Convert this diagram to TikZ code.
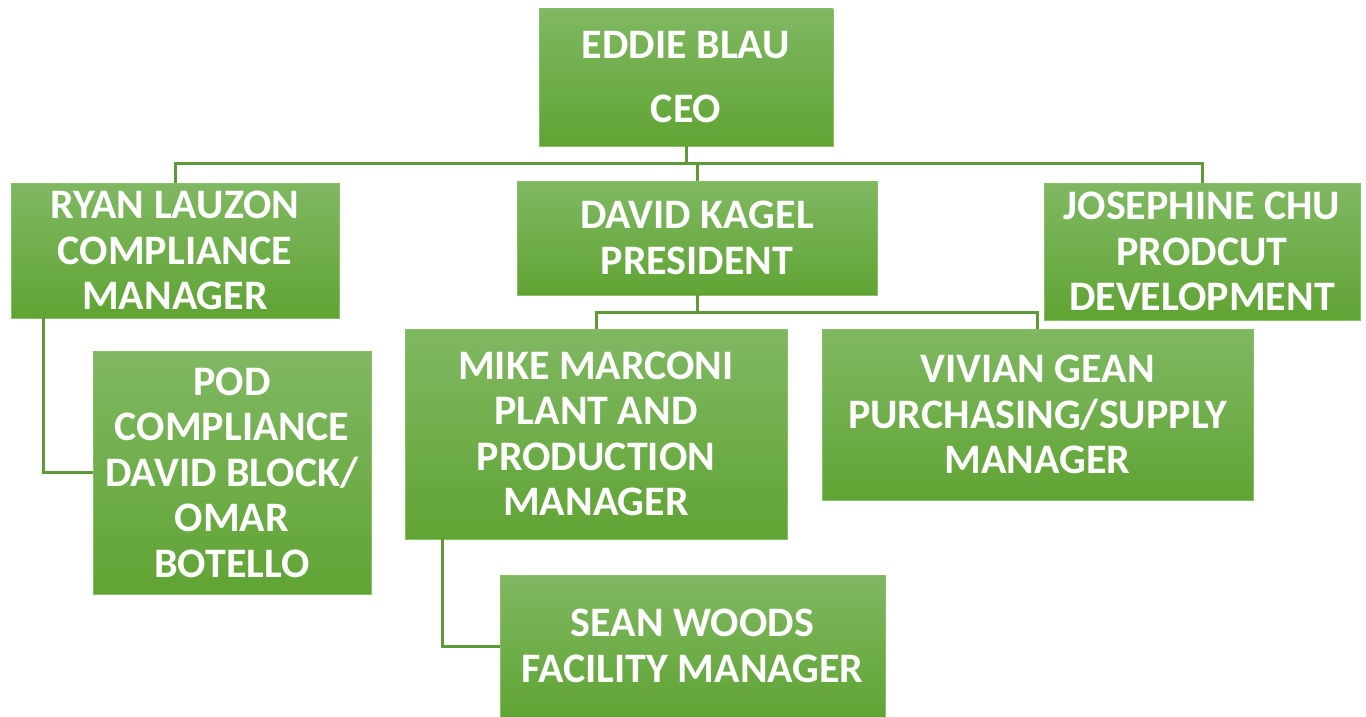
\documentclass[tikz,border=0pt]{standalone}
\usepackage{fontspec}
\setmainfont{Carlito}
\definecolor{boxtop}{HTML}{80B862}
\definecolor{boxbot}{HTML}{60A434}
\definecolor{boxedge}{HTML}{86BF66}
\definecolor{linkgreen}{HTML}{5E9A3A}
\tikzset{
  staff/.style={rectangle, draw=boxedge, line width=0.8pt, top color=boxtop, bottom color=boxbot,
    text=white, font=\fontsize{42}{45.5}\selectfont\bfseries, align=center, inner sep=0pt},
  link/.style={draw=linkgreen, line width=3pt}
}
\begin{document}
\begin{tikzpicture}[x=1pt, y=-1pt]
  \useasboundingbox (0,0) rectangle (1366,717);
  \node[staff, minimum width=294pt, minimum height=137pt] (ceo) at (686,77.5)
    {EDDIE BLAU\\[18.5pt]CEO};
  \node[staff, minimum width=328pt, minimum height=135pt] (ryan) at (175,250.5)
    {RYAN LAUZON\\COMPLIANCE\\MANAGER};
  \node[staff, minimum width=360pt, minimum height=114pt] (kagel) at (697,238)
    {DAVID KAGEL\\PRESIDENT};
  \node[staff, minimum width=316pt, minimum height=137pt] (chu) at (1202,251.5)
    {JOSEPHINE CHU\\PRODCUT\\DEVELOPMENT};
  \node[staff, minimum width=278pt, minimum height=243pt] (pod) at (232,472.5)
    {POD\\COMPLIANCE\\DAVID BLOCK/\\OMAR\\BOTELLO};
  \node[staff, minimum width=382pt, minimum height=210pt] (marconi) at (596,434)
    {MIKE MARCONI\\PLANT AND\\PRODUCTION\\MANAGER};
  \node[staff, minimum width=431pt, minimum height=171pt] (gean) at (1037.5,414.5)
    {VIVIAN GEAN\\PURCHASING/SUPPLY\\MANAGER};
  \node[staff, minimum width=385pt, minimum height=142pt] (woods) at (692.5,646)
    {SEAN WOODS\\FACILITY MANAGER};

  \draw[link] (ceo.south) -- ++(0,17) -| (ryan.north);
  \draw[link] (ceo.south) -- ++(0,17) -| (kagel.north);
  \draw[link] (ceo.south) -- ++(0,17) -| (chu.north);
  \draw[link] ([xshift=33pt]ryan.south west) |- (pod.west);
  \draw[link] (kagel.south) -- ++(0,17) -| (marconi.north);
  \draw[link] (kagel.south) -- ++(0,17) -| (gean.north);
  \draw[link] ([xshift=38pt]marconi.south west) |- (woods.west);
\end{tikzpicture}
\end{document}
